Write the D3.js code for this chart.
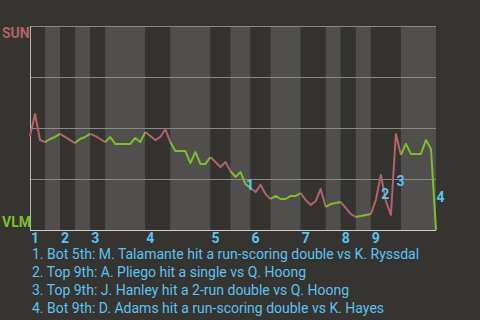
<!DOCTYPE html>
<html>
<head>
<meta charset="utf-8">
<script src="https://cdn.jsdelivr.net/npm/d3@7"></script>
<style>
  html, body { margin: 0; padding: 0; background: #363430; }
  svg { display: block; }
</style>
</head>
<body>
<div id="chart"></div>
<script>
// Win probability for SUN (away), one value per play
const winProb = [
    46.1, 56.9, 44.1, 43.1, 44.6, 45.6, 47.1, 45.6, 44.1, 42.6,
    44.6, 45.6, 47.1, 46.1, 44.6, 43.1, 45.6, 42.2, 42.2, 42.2,
    42.2, 45.1, 43.1, 48.0, 46.1, 44.1, 45.6, 49.5, 43.1, 38.7,
    38.7, 38.7, 32.8, 38.2, 32.4, 32.4, 35.8, 33.3, 30.9, 33.3,
    28.9, 26.0, 28.4, 22.5, 20.6, 18.6, 22.1, 17.6, 15.2, 16.7,
    15.2, 15.2, 16.7, 16.7, 18.1, 14.7, 12.3, 14.2, 20.1, 11.3,
    12.7, 13.2, 13.7, 10.8, 7.8, 6.4, 6.9, 7.4, 7.8, 14.7,
    27.0, 14.2, 7.4, 47.1, 36.8, 42.2, 37.3, 37.3, 37.3, 44.1,
    39.7, 0
];

// play index where each half inning starts (last entry = end of game)
const halfInningStarts = [0, 3, 6, 9, 12, 15, 23, 28, 36, 40, 44, 48, 54, 59, 62, 65, 68, 74, 81];
const inningLabels = ["1", "2", "3", "4", "5", "6", "7", "8", "9"];

const teams = ["SUN", "VLM"];
const yTicks = [0, 25, 50, 75, 100];

// key plays: index of the play that ends the marked segment
const keyPlays = [43, 70, 73, 81];
const keyPlayText = [
    "Bot 5th: M. Talamante hit a run-scoring double vs K. Ryssdal",
    "Top 9th: A. Pliego hit a single vs Q. Hoong",
    "Top 9th: J. Hanley hit a 2-run double vs Q. Hoong",
    "Bot 9th: D. Adams hit a run-scoring double vs K. Hayes"
];

let margin = {top: 26, right: 44, bottom: 90, left: 30},
    width = 480 - margin.left - margin.right,
    height = 320 - margin.top - margin.bottom;

const awayColor = "#b2636a", homeColor = "#7dbf2b", noteColor = "#5cc2f2";

let svg = d3.select("#chart").append("svg")
    .attr("width", 480)
    .attr("height", 320);

let g = svg.append("g")
    .attr("transform", "translate(" + margin.left + "," + margin.top + ")");

let x = d3.scaleLinear().domain([0, winProb.length - 1]).range([0, width]);
let y = d3.scaleLinear().domain([0, 100]).range([height, 0]);

// half inning bands
let halves = d3.range(halfInningStarts.length - 1).map(function (i) {
    return {start: halfInningStarts[i], end: halfInningStarts[i + 1], top: i % 2 === 0};
});

g.selectAll("rect.band")
    .data(halves)
    .enter().append("rect")
    .attr("class", "band")
    .attr("x", function (d) { return x(d.start); })
    .attr("width", function (d) { return x(d.end) - x(d.start); })
    .attr("y", 0)
    .attr("height", height)
    .attr("fill", function (d) { return d.top ? "#353330" : "#504f4d"; });

// grid lines
g.selectAll("line.grid")
    .data(yTicks.slice(1))
    .enter().append("line")
    .attr("class", "grid")
    .attr("x1", 0).attr("x2", width)
    .attr("y1", function (d) { return Math.round(y(d)) + 0.5; })
    .attr("y2", function (d) { return Math.round(y(d)) + 0.5; })
    .attr("stroke", "#8c8a88")
    .attr("stroke-width", 1);

g.append("line")
    .attr("x1", 0.5).attr("x2", 0.5)
    .attr("y1", 0).attr("y2", height)
    .attr("stroke", "#b8b6b4");

g.append("line")
    .attr("x1", 0).attr("x2", width)
    .attr("y1", height + 0.5).attr("y2", height + 0.5)
    .attr("stroke", "#d0cecc");

// win probability line, coloured by batting team
let line = d3.line()
    .x(function (d) { return x(d.i); })
    .y(function (d) { return y(d.v); });

g.selectAll("path.wp")
    .data(halves)
    .enter().append("path")
    .attr("class", "wp")
    .attr("d", function (d) {
        let pts = d3.range(d.start, d.end + 1).map(function (i) {
            return {i: i, v: winProb[i]};
        });
        return line(pts);
    })
    .attr("fill", "none")
    .attr("stroke", function (d) { return d.top ? awayColor : homeColor; })
    .attr("stroke-width", 2)
    .attr("stroke-linejoin", "round");

// team labels
svg.append("text")
    .attr("x", 2).attr("y", 38)
    .attr("fill", awayColor)
    .style("font", "bold 14px Roboto")
    .text(teams[0]);

svg.append("text")
    .attr("x", 2).attr("y", 227)
    .attr("fill", homeColor)
    .style("font", "bold 14px Roboto")
    .text(teams[1]);

// inning labels at the start of each top half
g.selectAll("text.inning")
    .data(inningLabels)
    .enter().append("text")
    .attr("class", "inning")
    .attr("x", function (d, i) { return x(halfInningStarts[i * 2]) + 1; })
    .attr("y", height + 13)
    .attr("fill", noteColor)
    .style("font", "bold 14px Roboto")
    .text(function (d) { return d; });

// key play markers at the middle of their segment
g.selectAll("text.marker")
    .data(keyPlays)
    .enter().append("text")
    .attr("class", "marker")
    .attr("x", function (d) { return (x(d - 1) + x(d)) / 2 + 3; })
    .attr("y", function (d) { return (y(winProb[d - 1]) + y(winProb[d])) / 2 + 12; })
    .attr("fill", noteColor)
    .style("font", "bold 14px Roboto")
    .text(function (d, i) { return i + 1; });

// key play notes
svg.selectAll("text.note")
    .data(keyPlayText)
    .enter().append("text")
    .attr("class", "note")
    .attr("x", 32)
    .attr("y", function (d, i) { return 259 + i * 18; })
    .attr("fill", noteColor)
    .style("font", "14px Roboto")
    .text(function (d, i) { return (i + 1) + ". " + d; });
</script>
</body>
</html>
